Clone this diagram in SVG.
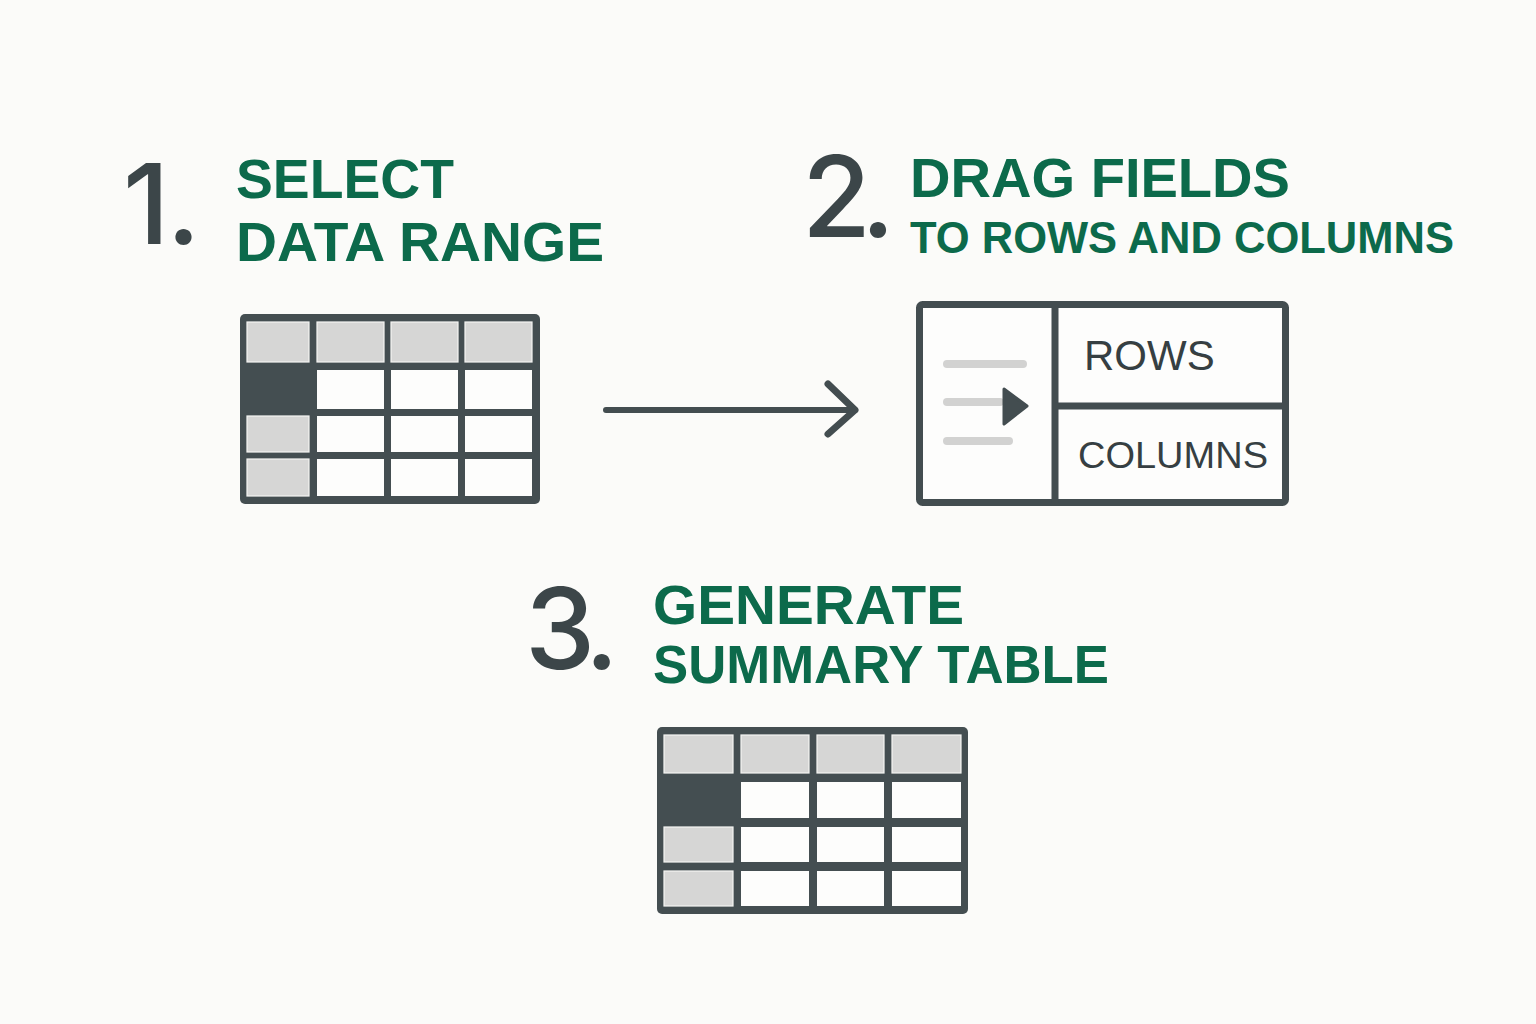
<svg xmlns="http://www.w3.org/2000/svg" width="1536" height="1024" viewBox="0 0 1536 1024">
<style>
.num{font-family:Inter,"Liberation Sans",Arial,sans-serif;font-weight:500;font-size:112px;fill:#3c4649;}
.head{font-family:"Liberation Sans",Arial,sans-serif;font-weight:bold;fill:#0c6a4b;}
.lbl{font-family:"Liberation Sans",Arial,sans-serif;fill:#363f42;}
.frame{fill:#444e51;}
.g{fill:#d6d6d5;stroke:#f5f5f3;stroke-width:1.2;}
.w{fill:#fdfdfc;}
.ln{stroke:#434d50;stroke-linecap:round;stroke-linejoin:round;fill:none;}
</style>
<rect width="1536" height="1024" fill="#fbfbf9"/>

<g id="step1-title">
<text class="num" x="123" y="244" letter-spacing="-3">1.</text>
<text class="head" x="236" y="198" font-size="55" textLength="218" lengthAdjust="spacingAndGlyphs">SELECT</text>
<text class="head" x="236" y="261" font-size="55" textLength="368" lengthAdjust="spacingAndGlyphs">DATA RANGE</text>
</g>

<g id="step1-table">
<rect class="frame" x="240" y="314" width="300" height="190" rx="5"/>
<rect class="g" x="247" y="322" width="62" height="40"/>
<rect class="g" x="317" y="322" width="67" height="40"/>
<rect class="g" x="391" y="322" width="67" height="40"/>
<rect class="g" x="465" y="322" width="67" height="40"/>
<rect class="w" x="317" y="370" width="67" height="39"/>
<rect class="w" x="391" y="370" width="67" height="39"/>
<rect class="w" x="465" y="370" width="67" height="39"/>
<rect class="g" x="247" y="416" width="62" height="36"/>
<rect class="w" x="317" y="416" width="67" height="36"/>
<rect class="w" x="391" y="416" width="67" height="36"/>
<rect class="w" x="465" y="416" width="67" height="36"/>
<rect class="g" x="247" y="459" width="62" height="37"/>
<rect class="w" x="317" y="459" width="67" height="37"/>
<rect class="w" x="391" y="459" width="67" height="37"/>
<rect class="w" x="465" y="459" width="67" height="37"/>
</g>

<g id="connectors">
<line class="ln" x1="606" y1="410" x2="855" y2="410" stroke-width="6"/>
<polyline class="ln" points="828,384 855,410 828,434" stroke-width="7"/>
</g>

<g id="step2-title">
<text class="num" x="802" y="237" letter-spacing="-10">2.</text>
<text class="head" x="910" y="197" font-size="55" textLength="380" lengthAdjust="spacingAndGlyphs">DRAG FIELDS</text>
<text class="head" x="910" y="253" font-size="44" textLength="544" lengthAdjust="spacingAndGlyphs">TO ROWS AND COLUMNS</text>
</g>

<g id="step2-panel">
<rect x="919.5" y="304.5" width="366" height="198" rx="3" fill="#fdfdfc" stroke="#434d50" stroke-width="7"/>
<line x1="1055" y1="304" x2="1055" y2="503" stroke="#434d50" stroke-width="7"/>
<line x1="1055" y1="406" x2="1286" y2="406" stroke="#434d50" stroke-width="7"/>
<g stroke="#d2d2d1" stroke-width="8" stroke-linecap="round">
<line x1="947" y1="364" x2="1023" y2="364"/>
<line x1="947" y1="402" x2="1000" y2="402"/>
<line x1="947" y1="441" x2="1009" y2="441"/>
</g>
<polygon points="1004,389 1027,406 1004,424" fill="#434d50" stroke="#434d50" stroke-width="3" stroke-linejoin="round"/>
<text class="lbl" x="1084" y="370" font-size="42">ROWS</text>
<text class="lbl" x="1078" y="468" font-size="37" textLength="190" lengthAdjust="spacingAndGlyphs">COLUMNS</text>
</g>

<g id="step3-title">
<text class="num" x="525" y="669" letter-spacing="-8">3.</text>
<text class="head" x="653" y="624" font-size="55" textLength="311" lengthAdjust="spacingAndGlyphs">GENERATE</text>
<text class="head" x="653" y="683" font-size="53" textLength="456" lengthAdjust="spacingAndGlyphs">SUMMARY TABLE</text>
</g>

<g id="step3-table">
<rect class="frame" x="657" y="727" width="311" height="187" rx="5"/>
<rect class="g" x="664" y="735" width="69" height="38"/>
<rect class="g" x="741" y="735" width="68" height="38"/>
<rect class="g" x="817" y="735" width="67" height="38"/>
<rect class="g" x="892" y="735" width="69" height="38"/>
<rect class="w" x="741" y="782" width="68" height="36"/>
<rect class="w" x="817" y="782" width="67" height="36"/>
<rect class="w" x="892" y="782" width="69" height="36"/>
<rect class="g" x="664" y="827" width="69" height="35"/>
<rect class="w" x="741" y="827" width="68" height="35"/>
<rect class="w" x="817" y="827" width="67" height="35"/>
<rect class="w" x="892" y="827" width="69" height="35"/>
<rect class="g" x="664" y="871" width="69" height="35"/>
<rect class="w" x="741" y="871" width="68" height="35"/>
<rect class="w" x="817" y="871" width="67" height="35"/>
<rect class="w" x="892" y="871" width="69" height="35"/>
</g>
</svg>
